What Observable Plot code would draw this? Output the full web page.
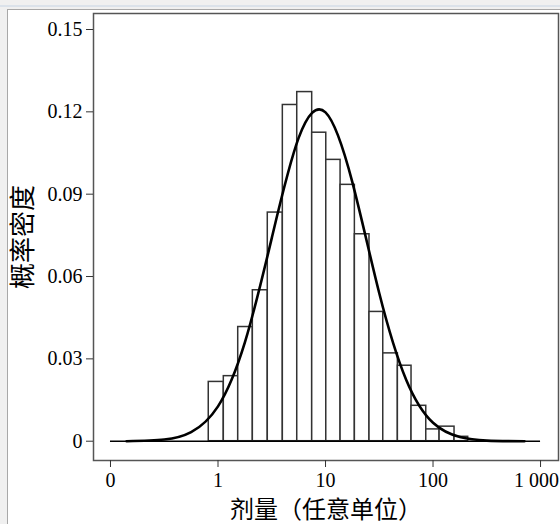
<!DOCTYPE html>
<html><head><meta charset="utf-8">
<script src="https://cdn.jsdelivr.net/npm/d3@7"></script>
<script src="https://cdn.jsdelivr.net/npm/@observablehq/plot@0.6"></script>
<style>
html,body{margin:0;padding:0;background:#f0f0f0;overflow:hidden;}
#wrap{position:relative;width:560px;height:524px;overflow:hidden;background:#f0f0f0;}
#stripe{position:absolute;left:0;top:5px;width:560px;height:2px;background:#dbe2ea;}
#panel{position:absolute;left:7px;top:9px;width:600px;height:600px;background:#fff;border-left:1.5px solid #a8a8a8;border-top:1.5px solid #a8a8a8;}
#chart{position:absolute;left:0;top:0;}
</style></head><body>
<div id="wrap"><div id="stripe"></div><div id="panel"></div><div id="chart"></div></div>
<script>
// log10(dose) bin edges and histogram probability densities
const binEdges = [-0.086, 0.054, 0.188, 0.324, 0.463, 0.603, 0.737, 0.876, 1.007, 1.140, 1.273, 1.409, 1.537, 1.673, 1.800, 1.937, 2.061, 2.200, 2.327];
const binHeights = [0.0216, 0.0237, 0.0416, 0.0550, 0.0833, 0.1225, 0.1272, 0.1124, 0.1025, 0.0934, 0.0754, 0.0471, 0.0320, 0.0275, 0.0129, 0.0043, 0.0053, 0.0016];

// fitted curve (log10 dose, density)
const curveX = [-0.85, -0.5, -0.25, 0, 0.25, 0.5, 0.75, 1.0, 1.25, 1.5, 1.75, 2.0, 2.25, 2.5, 2.85];
const curveY = [0.0000, 0.0006, 0.0033, 0.0127, 0.0360, 0.0740, 0.1105, 0.1198, 0.0943, 0.0539, 0.0224, 0.0067, 0.0015, 0.0002, 0.0000];

const xTickValues = [-1, 0, 1, 2, 3];
const xTickLabels = ["0", "1", "10", "100", "1 000"];
const yTickValues = [0, 0.03, 0.06, 0.09, 0.12, 0.15];
const yTickLabels = ["0", "0.03", "0.06", "0.09", "0.12", "0.15"];

const xLabel = "剂量（任意单位）";
const yLabel = "概率密度";

const bars = binHeights.map((h, i) => ({x1: binEdges[i], x2: binEdges[i + 1], y: h}));
const curve = curveX.map((x, i) => ({x, y: curveY[i]}));
const lastTick = xTickValues[xTickValues.length - 1];
const fmtX = d => xTickLabels[xTickValues.indexOf(d)];

const cjk = "'Noto Sans CJK SC', sans-serif";

const chart = Plot.plot({
  width: 560,
  height: 524,
  marginLeft: 93,
  marginTop: 13,
  marginRight: 2,
  marginBottom: 64,
  style: {background: "transparent", fontFamily: "'Liberation Serif', 'Times New Roman', serif", fontSize: "20px", color: "#000", overflow: "visible"},
  x: {domain: [-1.158, 3.167]},
  y: {domain: [-0.00703, 0.15583]},
  marks: [
    Plot.rect(bars, {x1: "x1", x2: "x2", y1: 0, y2: "y", fill: "white", stroke: "#333", strokeWidth: 1.5}),
    Plot.ruleY([0], {x1: xTickValues[0], x2: lastTick, stroke: "#000", strokeWidth: 1.5}),
    Plot.line(curve, {x: "x", y: "y", curve: "natural", stroke: "#000", strokeWidth: 2.6}),
    Plot.frame({stroke: "#555", strokeWidth: 1.5}),
    Plot.axisX({ticks: xTickValues, tickFormat: fmtX, tickSize: 7, tickPadding: 5, label: null, stroke: "#333", fontSize: 20, text: null}),
    Plot.axisX({ticks: xTickValues.slice(0, -1), tickFormat: fmtX, tickSize: 0, tickPadding: 12, label: null, fontSize: 20}),
    Plot.axisX({ticks: [lastTick], tickFormat: fmtX, tickSize: 0, tickPadding: 12, label: null, fontSize: 20, dx: -4}),
    Plot.axisY({ticks: yTickValues, tickFormat: d => yTickLabels[yTickValues.indexOf(d)], tickSize: 7, tickPadding: 4, label: null, stroke: "#333", fontSize: 20}),
    Plot.text([xLabel], {text: d => d, frameAnchor: "bottom", lineAnchor: "middle", dy: 50, fontSize: 24, fontFamily: cjk, fill: "#000"}),
    Plot.text([yLabel], {text: d => d, frameAnchor: "left", textAnchor: "middle", lineAnchor: "middle", dx: -70, rotate: -90, fontSize: 26, fontFamily: cjk, fill: "#000"})
  ]
});
document.getElementById("chart").appendChild(chart);
</script>
</body></html>
